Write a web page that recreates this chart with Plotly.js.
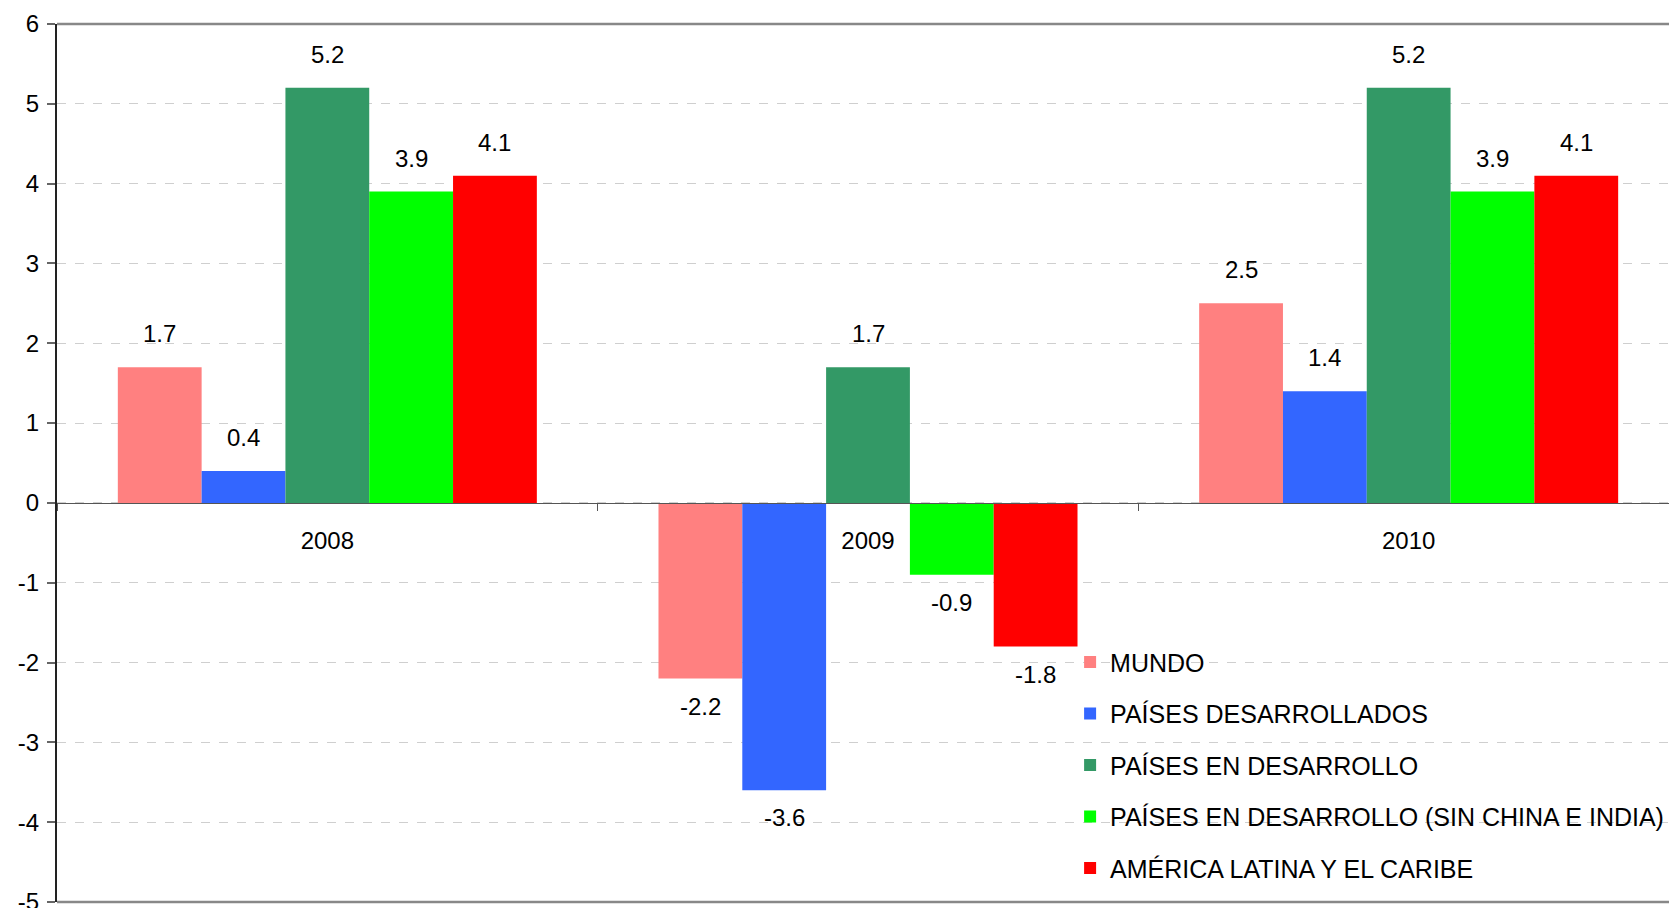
<!DOCTYPE html>
<html>
<head>
<meta charset="utf-8">
<script src="https://cdn.plot.ly/plotly-3.0.1.min.js"></script>
<style>html,body{margin:0;padding:0;background:#fff;overflow:hidden;}#chart{width:1680px;height:908px;}</style>
</head>
<body>
<div id="chart"></div>
<script>
const categories = ['2008', '2009', '2010'];
const seriesNames = [
  'MUNDO',
  'PAÍSES DESARROLLADOS',
  'PAÍSES EN DESARROLLO',
  'PAÍSES EN DESARROLLO (SIN CHINA E INDIA)',
  'AMÉRICA LATINA Y EL CARIBE'
];
const mundo = [1.7, -2.2, 2.5];
const paisesDesarrollados = [0.4, -3.6, 1.4];
const paisesEnDesarrollo = [5.2, 1.7, 5.2];
const sinChinaIndia = [3.9, -0.9, 3.9];
const americaLatina = [4.1, -1.8, 4.1];
const seriesColors = ['#FF8080', '#3366FF', '#339966', '#00FF00', '#FF0000'];
const yTicks = [-5, -4, -3, -2, -1, 0, 1, 2, 3, 4, 5, 6];

const seriesValues = [mundo, paisesDesarrollados, paisesEnDesarrollo, sinChinaIndia, americaLatina];
const FONT = 'Liberation Sans, Arial, sans-serif';
const bargap = 0.225;
const nSeries = seriesValues.length;
const slot = (1 - bargap) / nSeries;

const traces = seriesValues.map((vals, k) => ({
  type: 'bar',
  name: seriesNames[k],
  x: categories,
  y: vals,
  marker: {color: seriesColors[k], line: {width: 0}},
  legendgroup: 'g' + k,
  hoverinfo: 'x+y+name'
}));

const annotations = [];
seriesValues.forEach((vals, k) => {
  vals.forEach((v, i) => {
    annotations.push({
      x: i + (k - (nSeries - 1) / 2) * slot,
      y: v,
      xref: 'x', yref: 'y',
      text: v.toFixed(1),
      showarrow: false,
      xanchor: 'center',
      yanchor: v >= 0 ? 'bottom' : 'top',
      yshift: v >= 0 ? 18 : -12,
      font: {family: FONT, size: 24, color: '#000'}
    });
  });
});

const layout = {
  width: 1680, height: 908,
  margin: {l: 57, r: 1, t: 24, b: 6},
  paper_bgcolor: '#fff', plot_bgcolor: '#fff',
  barmode: 'group', bargap: bargap, bargroupgap: 0,
  font: {family: FONT, size: 24, color: '#000'},
  showlegend: true,
  legend: {
    x: 0.6246, y: 0.2994, xanchor: 'left', yanchor: 'top',
    font: {family: FONT, size: 25, color: '#000'},
    bgcolor: 'rgba(0,0,0,0)', tracegroupgap: 16, itemwidth: 30,
    traceorder: 'grouped'
  },
  xaxis: {
    type: 'category',
    range: [-0.5, 2.5],
    anchor: 'free', position: 5 / 11,
    showline: true, linecolor: '#555', linewidth: 1,
    ticks: 'outside', tickson: 'boundaries', ticklen: 7, tickcolor: '#555', tickwidth: 1,
    ticklabelstandoff: 16,
    showgrid: false, zeroline: false,
    tickfont: {family: FONT, size: 24, color: '#000'},
    fixedrange: true
  },
  yaxis: {
    range: [-5, 6],
    tickvals: yTicks,
    ticktext: yTicks.map(String),
    ticklabeloverflow: 'allow',
    ticklabelstandoff: 3,
    showgrid: true, gridcolor: '#cfcfcf', griddash: 'dash', gridwidth: 1,
    zeroline: false,
    showline: true, linecolor: '#222', linewidth: 2,
    ticks: 'outside', ticklen: 8, tickcolor: '#666', tickwidth: 2,
    tickfont: {family: FONT, size: 24, color: '#000'},
    fixedrange: true
  },
  shapes: [
    {type: 'line', xref: 'paper', yref: 'paper', x0: 0, x1: 1, y0: 1, y1: 1, line: {color: '#888', width: 2.5}},
    {type: 'line', xref: 'paper', yref: 'paper', x0: 0, x1: 1, y0: 0, y1: 0, line: {color: '#888', width: 2.5}}
  ],
  annotations: annotations
};

Plotly.newPlot('chart', traces, layout, {displayModeBar: false, staticPlot: true});
</script>
</body>
</html>
